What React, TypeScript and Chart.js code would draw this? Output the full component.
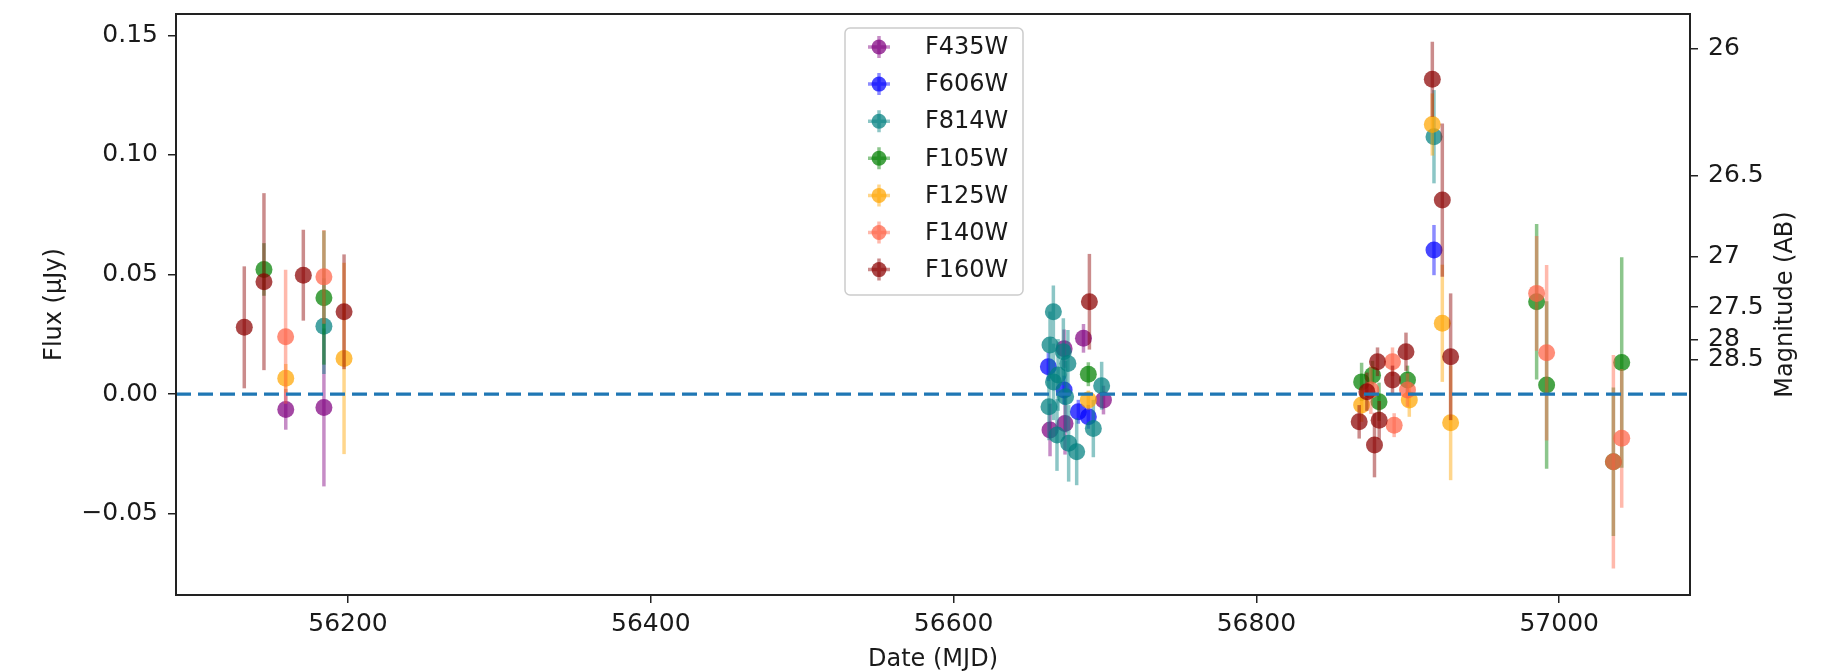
import React, { useEffect, useRef } from "react";
import { Chart, registerables } from "chart.js";

Chart.register(...registerables);

// ---------------- data ----------------
const F435W_MJD = [56158.9, 56184.1, 56663.7, 56673.0, 56673.6, 56685.8, 56699.0];
const F435W_FLUX = [-0.0064, -0.0056, -0.015, 0.019, -0.0123, 0.0233, -0.0025];
const F435W_ERR = [0.0085, 0.033, 0.011, 0.008, 0.013, 0.006, 0.006];

const F606W_MJD = [56662.6, 56673.0, 56682.4, 56689.0, 56917.3];
const F606W_FLUX = [0.0114, 0.0017, -0.0074, -0.0095, 0.0602];
const F606W_ERR = [0.006, 0.006, 0.005, 0.005, 0.0105];

const F814W_MJD = [56184.1, 56663.0, 56663.7, 56665.9, 56666.0, 56668.3, 56669.0, 56672.5, 56674.0, 56675.5, 56676.0, 56681.3, 56692.3, 56697.8, 56917.3];
const F814W_FLUX = [0.0284, -0.0053, 0.0205, 0.0344, 0.0051, -0.0171, 0.008, 0.0177, -0.0011, 0.0128, -0.0206, -0.0241, -0.0144, 0.0035, 0.1076];
const F814W_ERR = [0.02, 0.014, 0.014, 0.011, 0.016, 0.015, 0.015, 0.014, 0.015, 0.014, 0.016, 0.014, 0.012, 0.01, 0.0195];

const F105W_MJD = [56144.5, 56184.1, 56689.0, 56869.5, 56876.7, 56881.0, 56899.8, 56985.1, 56991.7, 57035.8, 57041.3];
const F105W_FLUX = [0.0521, 0.0403, 0.0083, 0.0051, 0.0079, -0.0032, 0.0059, 0.0386, 0.0038, -0.0283, 0.0132];
const F105W_ERR = [0.011, 0.028, 0.005, 0.008, 0.006, 0.008, 0.006, 0.0325, 0.035, 0.031, 0.044];

const F125W_MJD = [56158.9, 56197.4, 56689.0, 56869.5, 56901.0, 56916.2, 56922.8, 56928.3];
const F125W_FLUX = [0.0066, 0.0149, -0.0025, -0.0046, -0.0025, 0.1127, 0.0296, -0.012];
const F125W_ERR = [0.006, 0.04, 0.004, 0.007, 0.007, 0.013, 0.0245, 0.024];

const F140W_MJD = [56158.8, 56184.1, 56875.6, 56889.9, 56891.0, 56899.8, 56985.1, 56991.7, 57035.8, 57041.3];
const F140W_FLUX = [0.024, 0.049, 0.0017, 0.0135, -0.013, 0.0017, 0.0421, 0.0173, -0.0283, -0.0185];
const F140W_ERR = [0.028, 0.0196, 0.01, 0.006, 0.005, 0.007, 0.024, 0.0367, 0.0446, 0.029];

const F160W_MJD = [56131.5, 56144.5, 56170.5, 56197.4, 56689.7, 56867.9, 56873.0, 56878.0, 56880.0, 56881.1, 56889.9, 56898.8, 56916.2, 56922.8, 56928.3];
const F160W_FLUX = [0.0279, 0.047, 0.0497, 0.0344, 0.0386, -0.0116, 0.001, -0.0213, 0.0135, -0.0109, 0.0059, 0.0177, 0.1316, 0.0811, 0.0156];
const F160W_ERR = [0.0255, 0.037, 0.019, 0.024, 0.02, 0.007, 0.008, 0.0135, 0.006, 0.008, 0.006, 0.008, 0.0157, 0.032, 0.0265];

const FILTERS = ["F435W", "F606W", "F814W", "F105W", "F125W", "F140W", "F160W"];
const COLORS = ["#800080", "#0000ff", "#008080", "#008000", "#ffa500", "#ff6347", "#8b0000"];

const X_TICKS = [56200, 56400, 56600, 56800, 57000];
const Y_TICKS = [-0.05, 0, 0.05, 0.1, 0.15];
const MAG_TICKS = [26, 26.5, 27, 27.5, 28, 28.5];
const ZERO_LEVEL = 0;

const X_MIN = 56086.4;
const X_MAX = 57086.4;
const Y_MIN = -0.084;
const Y_MAX = 0.1589;

const SERIES = [
  { mjd: F435W_MJD, flux: F435W_FLUX, err: F435W_ERR },
  { mjd: F606W_MJD, flux: F606W_FLUX, err: F606W_ERR },
  { mjd: F814W_MJD, flux: F814W_FLUX, err: F814W_ERR },
  { mjd: F105W_MJD, flux: F105W_FLUX, err: F105W_ERR },
  { mjd: F125W_MJD, flux: F125W_FLUX, err: F125W_ERR },
  { mjd: F140W_MJD, flux: F140W_FLUX, err: F140W_ERR },
  { mjd: F160W_MJD, flux: F160W_FLUX, err: F160W_ERR },
];

// ---------------- helpers ----------------
const magToFlux = (m: number) => Math.pow(10, (23.9 - m) / 2.5);

function rgba(hex: string, a: number) {
  const n = parseInt(hex.slice(1), 16);
  return `rgba(${(n >> 16) & 255},${(n >> 8) & 255},${n & 255},${a})`;
}

const FONT = "'DejaVu Sans', sans-serif";
const TEXT = "#1a1a1a";
const BAR_ALPHA = 0.45;
const PT_ALPHA = 0.72;
const BAR_W = 3.5;

const errorBarPlugin = {
  id: "errorBars",
  beforeDatasetDraw(chart: any, args: any) {
    const s = SERIES[args.index];
    if (!s) return;
    const { ctx, chartArea } = chart;
    const xs = chart.scales.x;
    const ys = chart.scales.y;
    ctx.save();
    ctx.beginPath();
    ctx.rect(chartArea.left, chartArea.top, chartArea.right - chartArea.left, chartArea.bottom - chartArea.top);
    ctx.clip();
    ctx.strokeStyle = rgba(COLORS[args.index], BAR_ALPHA);
    ctx.lineWidth = BAR_W;
    for (let i = 0; i < s.mjd.length; i++) {
      const x = xs.getPixelForValue(s.mjd[i]);
      const y1 = ys.getPixelForValue(s.flux[i] - s.err[i]);
      const y2 = ys.getPixelForValue(s.flux[i] + s.err[i]);
      ctx.beginPath();
      ctx.moveTo(x, y1);
      ctx.lineTo(x, y2);
      ctx.stroke();
    }
    ctx.restore();
  },
  afterDatasetsDraw(chart: any) {
    const { ctx, chartArea } = chart;
    const ys = chart.scales.y;
    const y0 = ys.getPixelForValue(ZERO_LEVEL);
    ctx.save();
    ctx.strokeStyle = "#1f77b4";
    ctx.lineWidth = 3.2;
    ctx.setLineDash([15, 7]);
    ctx.beginPath();
    ctx.moveTo(chartArea.left, y0);
    ctx.lineTo(chartArea.right, y0);
    ctx.stroke();
    ctx.restore();
  },
  afterDraw(chart: any) {
    const { ctx, chartArea } = chart;
    ctx.save();
    // frame
    ctx.strokeStyle = "#222";
    ctx.lineWidth = 2;
    ctx.setLineDash([]);
    ctx.strokeRect(chartArea.left, chartArea.top, chartArea.right - chartArea.left, chartArea.bottom - chartArea.top);

    // right title
    const y2 = chart.scales.y2;
    ctx.fillStyle = TEXT;
    ctx.font = `24px ${FONT}`;
    ctx.textAlign = "center";
    ctx.textBaseline = "middle";
    ctx.translate(y2.right - 53, (chartArea.top + chartArea.bottom) / 2);
    ctx.rotate(-Math.PI / 2);
    ctx.fillText("Magnitude (AB)", 0, 0);
    ctx.restore();

    // legend
    ctx.save();
    const bx = 845, by = 28, bw = 178, bh = 267, r = 5;
    ctx.fillStyle = "rgba(255,255,255,0.85)";
    ctx.strokeStyle = "#cccccc";
    ctx.lineWidth = 1.5;
    ctx.beginPath();
    ctx.moveTo(bx + r, by);
    ctx.arcTo(bx + bw, by, bx + bw, by + bh, r);
    ctx.arcTo(bx + bw, by + bh, bx, by + bh, r);
    ctx.arcTo(bx, by + bh, bx, by, r);
    ctx.arcTo(bx, by, bx + bw, by, r);
    ctx.closePath();
    ctx.fill();
    ctx.stroke();
    ctx.font = `24px ${FONT}`;
    ctx.textAlign = "left";
    ctx.textBaseline = "middle";
    FILTERS.forEach((name, k) => {
      const cy = 47 + k * 37.1;
      const cx = 879;
      ctx.strokeStyle = rgba(COLORS[k], BAR_ALPHA);
      ctx.lineWidth = BAR_W;
      ctx.beginPath();
      ctx.moveTo(cx - 11, cy);
      ctx.lineTo(cx + 11, cy);
      ctx.moveTo(cx, cy - 11);
      ctx.lineTo(cx, cy + 11);
      ctx.stroke();
      ctx.fillStyle = rgba(COLORS[k], PT_ALPHA);
      ctx.beginPath();
      ctx.arc(cx, cy, 7.5, 0, Math.PI * 2);
      ctx.fill();
      ctx.fillStyle = TEXT;
      ctx.fillText(name, 925, cy + 1);
    });
    ctx.restore();
  },
};

export default function App() {
  const ref = useRef<HTMLCanvasElement | null>(null);

  useEffect(() => {
    if (!ref.current) return;
    const datasets = FILTERS.map((name, i) => ({
      label: name,
      data: SERIES[i].mjd.map((m, j) => ({ x: m, y: SERIES[i].flux[j] })),
      backgroundColor: rgba(COLORS[i], PT_ALPHA),
      borderColor: rgba(COLORS[i], PT_ALPHA),
      borderWidth: 0,
      pointRadius: 8.5,
      pointHoverRadius: 8.5,
      showLine: false,
      order: FILTERS.length - 1 - i,
    }));

    const tickFont = { family: FONT, size: 25 };
    const chart = new Chart(ref.current, {
      type: "scatter",
      data: { datasets },
      plugins: [errorBarPlugin],
      options: {
        animation: false,
        responsive: false,
        maintainAspectRatio: false,
        devicePixelRatio: 1,
        layout: { padding: { top: 14, left: 0, right: 0, bottom: 0 } },
        plugins: { legend: { display: false }, tooltip: { enabled: false } },
        scales: {
          x: {
            type: "linear",
            min: X_MIN,
            max: X_MAX,
            afterBuildTicks: (axis: any) => {
              axis.ticks = X_TICKS.map((v) => ({ value: v }));
            },
            afterFit: (scale: any) => {
              scale.height = 77;
              scale.paddingLeft = 0;
              scale.paddingRight = 0;
            },
            ticks: {
              font: tickFont,
              color: TEXT,
              padding: 6,
              maxRotation: 0,
              autoSkip: false,
              callback: (v: any) => String(v),
            },
            grid: { drawOnChartArea: false, drawTicks: true, tickLength: 8, color: "#222", lineWidth: 1.5 },
            border: { display: false },
            title: {
              display: true,
              text: "Date (MJD)",
              font: { family: FONT, size: 24 },
              color: TEXT,
              padding: { top: 0, bottom: -2 },
            },
          },
          y: {
            type: "linear",
            position: "left",
            min: Y_MIN,
            max: Y_MAX,
            afterBuildTicks: (axis: any) => {
              axis.ticks = Y_TICKS.map((v) => ({ value: v }));
            },
            afterFit: (scale: any) => {
              scale.width = 176;
              scale.paddingTop = 0;
              scale.paddingBottom = 0;
            },
            ticks: {
              font: tickFont,
              color: TEXT,
              padding: 10,
              autoSkip: false,
              callback: (v: any) => Number(v).toFixed(2).replace("-", "\u2212"),
            },
            grid: { drawOnChartArea: false, drawTicks: true, tickLength: 8, color: "#222", lineWidth: 1.5 },
            border: { display: false },
            title: {
              display: true,
              text: "Flux (\u03bcJy)",
              font: { family: FONT, size: 24 },
              color: TEXT,
              padding: { top: 40, bottom: 0 },
            },
          },
          y2: {
            type: "linear",
            position: "right",
            min: Y_MIN,
            max: Y_MAX,
            afterBuildTicks: (axis: any) => {
              axis.ticks = MAG_TICKS.map((m) => ({ value: magToFlux(m) }));
            },
            afterFit: (scale: any) => {
              scale.width = 149;
              scale.paddingTop = 0;
              scale.paddingBottom = 0;
            },
            ticks: {
              font: tickFont,
              color: TEXT,
              padding: 10,
              autoSkip: false,
              callback: (_v: any, idx: number) => String(MAG_TICKS[idx]),
            },
            grid: { drawOnChartArea: false, drawTicks: true, tickLength: 8, color: "#222", lineWidth: 1.5 },
            border: { display: false },
            title: { display: false },
          },
        },
      },
    } as any);
    return () => chart.destroy();
  }, []);

  return (
    <div style={{ position: "absolute", left: 0, top: 0, width: 1839, height: 672, background: "#fff" }}>
      <canvas ref={ref} width={1839} height={672} style={{ width: 1839, height: 672, display: "block" }} />
    </div>
  );
}
